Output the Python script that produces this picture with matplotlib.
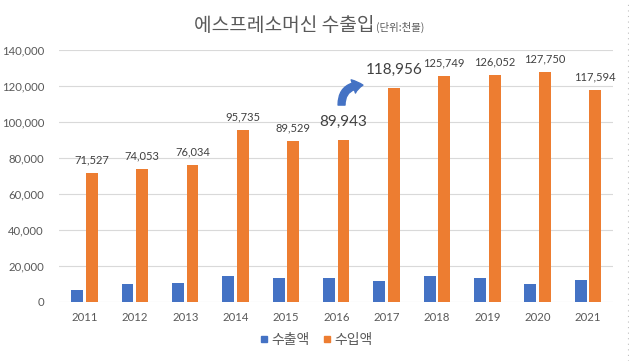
import matplotlib
matplotlib.use("Agg")
import matplotlib.pyplot as plt
from matplotlib.patches import FancyArrowPatch
from matplotlib.lines import Line2D
import numpy as np

years = ["2011", "2012", "2013", "2014", "2015", "2016", "2017", "2018", "2019", "2020", "2021"]
exports = [6850, 10200, 10700, 14600, 13500, 13500, 11850, 14600, 13500, 10200, 12400]
imports = [71527, 74053, 76034, 95735, 89529, 89943, 118956, 125749, 126052, 127750, 117594]
highlight = ["2016", "2017"]
yticks = [0, 20000, 40000, 60000, 80000, 100000, 120000, 140000]

BLUE = "#4472C4"
ORANGE = "#ED7D31"
GRAY = "#595959"
KR = ["Noto Sans CJK KR", "DejaVu Sans"]
NUM = ["Lato", "DejaVu Sans"]

fig = plt.figure(figsize=(6.29, 3.61), dpi=100)
ax = fig.add_axes([59.3 / 629, 1 - 302 / 361, (613.2 - 59.3) / 629, 252 / 361])

x = np.arange(len(years))
w = 0.235
ax.bar(x - 0.145, exports, width=w, color=BLUE, zorder=3)
ax.bar(x + 0.145, imports, width=w, color=ORANGE, zorder=3)

ax.set_xlim(-0.5, len(years) - 0.5)
ax.set_ylim(0, 140000)
ax.set_yticks(yticks)
ax.set_yticklabels([f"{v:,}" for v in yticks], family=NUM, fontsize=8.2, color=GRAY)
ax.set_xticks(x)
ax.set_xticklabels(years, family=NUM, fontsize=8.2, color=GRAY)
ax.tick_params(axis="y", length=0, pad=11)
ax.tick_params(axis="x", length=0, pad=7.5)
for s in ax.spines.values():
    s.set_visible(False)
ax.yaxis.grid(True, color="#D9D9D9", linewidth=0.8, zorder=0)
ax.set_axisbelow(True)

for i, (yr, v) in enumerate(zip(years, imports)):
    if yr in highlight:
        ax.annotate(f"{v:,}", (i + 0.145, v), xytext=(0, 13), textcoords="offset points",
                    ha="center", va="center", fontsize=11, color="#404040", family=NUM)
    else:
        ax.annotate(f"{v:,}", (i + 0.145, v), xytext=(0, 9.5), textcoords="offset points",
                    ha="center", va="center", fontsize=8, color="#404040", family=NUM)

arrow = FancyArrowPatch((5.105, 109400), (5.53, 120500),
                        arrowstyle="simple,head_length=7,head_width=10,tail_width=5",
                        connectionstyle="angle3,angleA=90,angleB=0",
                        color=BLUE, shrinkA=0, shrinkB=0, zorder=5, clip_on=False)
ax.add_patch(arrow)

tx = 375 / 629
ty = 1 - 31 / 361
fig.text(tx, ty, "에스프레소머신 수출입", ha="right", va="baseline", fontsize=13.8,
         color=GRAY, family=KR)
fig.text(tx + 1 / 629, ty, "(단위:천불)", ha="left", va="baseline", fontsize=7.5, color=GRAY, family=KR)

handles = [Line2D([], [], marker="s", linestyle="none", markersize=5, color=BLUE),
           Line2D([], [], marker="s", linestyle="none", markersize=5, color=ORANGE)]
leg = fig.legend(handles, ["수출액", "수입액"], loc="center", bbox_to_anchor=(0.503, 1 - 340 / 361),
                 ncol=2, frameon=False, handlelength=0.6, handletextpad=0.2, columnspacing=1.0,
                 prop={"family": KR, "size": 10})
for t in leg.get_texts():
    t.set_color(GRAY)

fig.add_artist(Line2D([627.5 / 629, 627.5 / 629], [0, 1], transform=fig.transFigure,
                      color="#BFBFBF", linewidth=0.8, linestyle=(0, (1, 4))))

fig.savefig("out.png", dpi=100)
